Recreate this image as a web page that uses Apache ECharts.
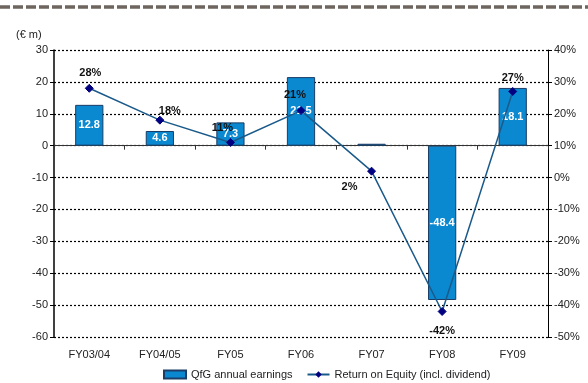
<!DOCTYPE html>
<html>
<head>
<meta charset="utf-8">
<script src="https://cdn.jsdelivr.net/npm/echarts@6/dist/echarts.min.js"></script>
<style>
  html, body { margin: 0; padding: 0; background: #fff; }
  #chart { width: 588px; height: 383px; }
</style>
</head>
<body>
<div id="chart"></div>
<script>
// Fiscal years on the category axis
const categories = ['FY03/04', 'FY04/05', 'FY05', 'FY06', 'FY07', 'FY08', 'FY09'];
// QfG annual earnings, € million
const earnings = [12.8, 4.6, 7.3, 21.5, 0.6, -48.4, 18.1];
// Return on Equity (incl. dividend), percent
const roe = [28, 18, 11, 21, 2, -42, 27];
// Whether the earnings bar carries a value label
const earningsLabelShown = [true, true, true, true, false, true, true];
// Placement of each ROE label around its point: [position, dx, dy]
const roeLabelPlace = [
  ['top', 1, 1], ['top', 10, 7], ['top', -8, 1], ['top', -6, 0],
  ['bottom', -22, 0], ['bottom', 0, 3], ['top', 0, 3]
];

const font = 'Liberation Sans, Arial, sans-serif';
const chart = echarts.init(document.getElementById('chart'), null, { renderer: 'canvas' });

const barData = earnings.map((v, i) => ({
  value: v,
  label: { show: earningsLabelShown[i] }
}));
const lineData = roe.map((v, i) => {
  const p = roeLabelPlace[i];
  return { value: v, label: { position: p[0], offset: [p[1], p[2]] } };
});

chart.setOption({
  animation: false,
  textStyle: { fontFamily: font },
  title: {
    text: '(€ m)',
    left: 11, top: 24,
    textStyle: { fontFamily: font, fontSize: 11, fontWeight: 'normal', color: '#222' }
  },
  graphic: [{
    type: 'line',
    shape: { x1: 0, y1: 7, x2: 588, y2: 7 },
    style: { stroke: '#6e655f', lineWidth: 3.5, lineDash: [10, 3] },
    silent: true
  }],
  grid: { left: 54, right: 40, top: 50, bottom: 46 },
  legend: {
    left: 158, bottom: -2,
    itemGap: 14,
    itemWidth: 22, itemHeight: 8,
    textStyle: { fontFamily: font, fontSize: 11, color: '#222' },
    data: [
      { name: 'QfG annual earnings', icon: 'rect' },
      { name: 'Return on Equity (incl. dividend)' }
    ]
  },
  xAxis: [{
    type: 'category',
    data: categories,
    position: 'bottom',
    axisLine: { show: false, onZero: false },
    axisTick: { show: false },
    axisLabel: { fontFamily: font, fontSize: 11, color: '#222', margin: 12 }
  }, {
    type: 'category',
    data: categories,
    position: 'bottom',
    axisLine: { show: true, onZero: true, onZeroAxisIndex: 0, lineStyle: { color: '#333', width: 1 } },
    axisTick: { show: true, length: 4, lineStyle: { color: '#333' } },
    axisLabel: { show: false }
  }],
  yAxis: [{
    type: 'value',
    min: -60, max: 30, interval: 10,
    axisLine: { show: true, lineStyle: { color: '#000', width: 1.5 } },
    axisTick: { show: true, length: 4, lineStyle: { color: '#000' } },
    axisLabel: { fontFamily: font, fontSize: 11, color: '#222', margin: 6 },
    splitLine: { show: true, lineStyle: { color: '#000', width: 1.2, type: [2, 2] } }
  }, {
    type: 'value',
    min: -50, max: 40, interval: 10,
    axisLine: { show: true, lineStyle: { color: '#000', width: 1 } },
    axisTick: { show: true, length: 4, lineStyle: { color: '#000' } },
    axisLabel: { fontFamily: font, fontSize: 11, color: '#222', margin: 6, formatter: '{value}%' },
    splitLine: { show: false }
  }],
  series: [{
    name: 'QfG annual earnings',
    type: 'bar',
    xAxisIndex: 0, yAxisIndex: 0,
    data: barData,
    barWidth: '40%',
    itemStyle: { color: '#0a88d0', borderColor: '#1b3d66', borderWidth: 1 },
    label: {
      show: true, position: 'inside',
      color: '#fff', fontWeight: 'bold', fontSize: 11, fontFamily: font
    },
    z: 2
  }, {
    name: 'Return on Equity (incl. dividend)',
    type: 'line',
    xAxisIndex: 0, yAxisIndex: 1,
    data: lineData,
    symbol: 'diamond', symbolSize: 8,
    lineStyle: { color: '#1a5a8a', width: 1.5 },
    itemStyle: { color: '#000080', borderColor: '#000080' },
    label: {
      show: true, color: '#111', fontWeight: 'bold', fontSize: 11, fontFamily: font,
      distance: 6,
      formatter: p => p.value + '%'
    },
    z: 5
  }]
});
</script>
</body>
</html>
